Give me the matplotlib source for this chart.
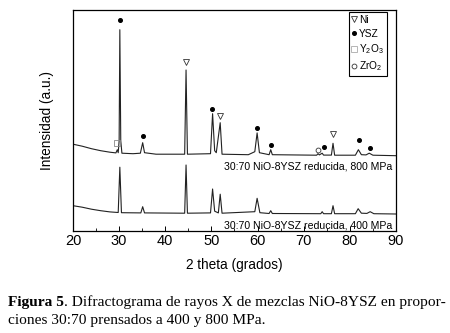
import matplotlib
matplotlib.use("Agg")
import matplotlib.pyplot as plt
from matplotlib.lines import Line2D

# ---- data (intensity in arbitrary units) ----
x_800 = [20, 22, 24, 26, 28, 29.3, 29.6, 29.8, 30.0, 30.15, 30.35, 30.6, 33, 34.6, 35.1, 35.5,
         38, 44.2, 44.5, 44.8, 49.8, 50.25, 50.7, 51.05, 51.9, 52.3, 58, 59.4, 59.9, 60.4,
         62.5, 62.85, 63.2, 72.8, 73.1, 73.4, 74.0, 74.3, 76.0, 76.35, 76.7, 81.2, 81.85,
         82.5, 83.5, 84.2, 85.0, 90]
y_800 = [86.5, 84.5, 82, 80, 78.5, 77.8, 81, 78, 90, 201, 90, 77.5, 77, 77.5, 88, 78,
         76.5, 76.5, 160.7, 76.5, 77, 117, 80, 78, 108, 76.5, 76, 79, 97.8, 78,
         76, 81, 76, 75.5, 77, 75.8, 77.5, 75.6, 75.6, 87.4, 75.5, 75.5, 81,
         76, 75.8, 77.5, 75.5, 75]

x_400 = [20, 22, 24, 26, 28, 29.8, 30.15, 30.5, 34.7, 35.1, 35.5, 44.2, 44.5, 44.8, 49.8,
         50.25, 50.7, 51.5, 51.9, 52.3, 59.4, 59.9, 60.5, 62.5, 62.85, 63.2, 73.7, 74.0,
         74.3, 76.0, 76.35, 76.7, 81.2, 81.8, 82.5, 83.7, 84.4, 85.2, 90]
y_400 = [25, 23.5, 21.5, 20, 18.8, 18.2, 63.5, 18, 17.8, 24, 17.8, 17.5, 65.7, 17.5, 17.8,
         41.7, 19.5, 17.8, 36.5, 17.5, 19, 32.4, 18, 17.2, 20, 17.2, 17, 19,
         17, 17, 25, 17, 17, 22, 17.5, 17.3, 19, 17, 16.7]

# phase identification marks on the 800 MPa pattern
ni_x = [44.5, 51.95, 76.35]
ni_y = [169, 115, 96.7]
ysz_x = [30.15, 35.1, 50.2, 59.9, 62.9, 74.4, 81.9, 84.3]
ysz_y = [211, 94.5, 122, 103, 86, 84, 90.7, 83]
y2o3_x = [29.5]
y2o3_y = [88]
zro2_x = [73.1]
zro2_y = [81]

label_800 = "30:70 NiO-8YSZ reducida, 800 MPa"
label_400 = "30:70 NiO-8YSZ reducida, 400 MPa"
xticks = [20, 30, 40, 50, 60, 70, 80, 90]

plt.rcParams['font.family'] = ['Liberation Sans', 'DejaVu Sans']
plt.rcParams['mathtext.fontset'] = 'custom'
plt.rcParams['mathtext.rm'] = 'Liberation Sans'
plt.rcParams['mathtext.default'] = 'regular'

fig = plt.figure(figsize=(4.5, 3.33), dpi=100)
ax = fig.add_axes([73/450, (333-230.7)/333, 323/450, 220.7/333])

ax.plot(x_800, y_800, color='#222222', lw=0.8)
ax.plot(x_400, y_400, color='#222222', lw=0.8)

ax.plot(ni_x, ni_y, ls='none', marker='v', ms=5, mfc='none', mec='#333333', mew=0.6)
ax.plot(ysz_x, ysz_y, ls='none', marker='o', ms=2.6, color='black')
ax.plot(y2o3_x, y2o3_y, ls='none', marker='s', ms=5, mfc='none', mec='#888888', mew=0.6)
ax.plot(zro2_x, zro2_y, ls='none', marker='o', ms=3.5, mfc='none', mec='#333333', mew=0.6)

ax.text(89.2, 64, label_800, ha='right', va='center', fontsize=7.6)
ax.text(89.2, 5, label_400, ha='right', va='center', fontsize=7.6)

handles = [
    Line2D([], [], ls='none', marker='v', ms=5, mfc='none', mec='#333333', mew=0.6),
    Line2D([], [], ls='none', marker='o', ms=2.6, color='black'),
    Line2D([], [], ls='none', marker='s', ms=5, mfc='none', mec='#aaaaaa', mew=0.6),
    Line2D([], [], ls='none', marker='o', ms=3.5, mfc='none', mec='#333333', mew=0.6),
]
labels = ['Ni', 'YSZ', 'Y$_2$O$_3$', 'ZrO$_2$']
leg = ax.legend(handles, labels, loc='upper right', bbox_to_anchor=(0.972, 0.991),
                borderaxespad=0, fontsize=7.3, handlelength=0.5, handletextpad=0.25,
                borderpad=0.3, labelspacing=0.35, fancybox=False, framealpha=1,
                edgecolor='black')
leg.get_frame().set_linewidth(0.8)

ax.set_xlim(20, 90)
ax.set_ylim(0, 220.7)
ax.set_xticks(xticks)
ax.set_xticks(range(25, 90, 10), minor=True)
ax.set_yticks([])
ax.tick_params(axis='x', which='major', direction='in', length=3.5, width=0.7,
               labelsize=10.5, pad=2.5)
ax.tick_params(axis='x', which='minor', direction='in', length=2, width=0.6)
for s in ax.spines.values():
    s.set_linewidth(0.9)

ax.set_xlabel('2 theta (grados)', fontsize=9.8, labelpad=7)
ax.set_ylabel('Intensidad (a.u.)', fontsize=9.8, labelpad=14)

# caption
cap1 = fig.text(8/450, 1 - 306/333, 'Figura 5', fontsize=11.1, fontweight='bold',
                family='Liberation Serif', va='baseline')
fig.canvas.draw()
rest = ". Difractograma de rayos X de mezclas NiO-8YSZ en propor-"
ax.annotate(rest, xy=(1, 0), xycoords=cap1, va='bottom', ha='left',
            fontsize=11.1, family='Liberation Serif', annotation_clip=False)
fig.text(8/450, 1 - 324/333, 'ciones 30:70 prensados a 400 y 800 MPa.', fontsize=11.1,
         family='Liberation Serif', va='baseline')

fig.savefig('out.png', dpi=100)
